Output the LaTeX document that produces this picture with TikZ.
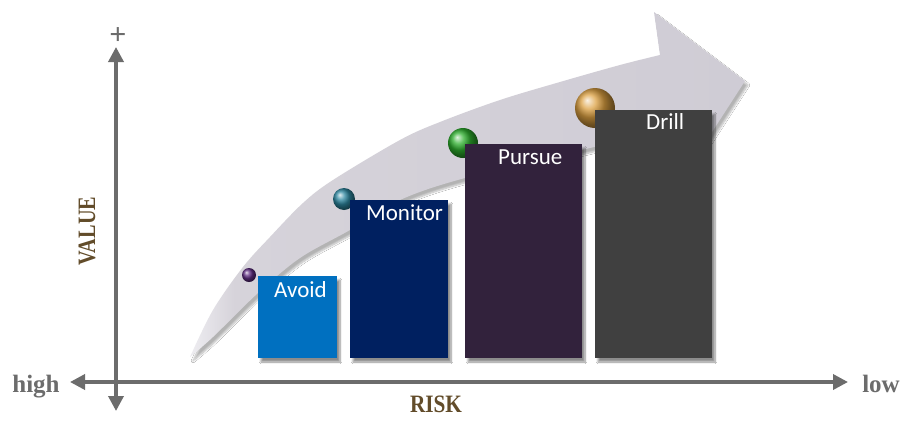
\documentclass[tikz,border=0pt]{standalone}
\usepackage{graphicx}
\usepackage{fontspec}
\setmainfont{Liberation Serif}
\newfontfamily\barfont{Carlito}
\usetikzlibrary{arrows.meta,shadows.blur}

\definecolor{axisgray}{RGB}{108,108,108}
\definecolor{titlebrown}{RGB}{98,76,42}
\definecolor{avoidblue}{RGB}{0,112,192}
\definecolor{monitornavy}{RGB}{0,32,96}
\definecolor{pursueplum}{RGB}{50,34,60}
\definecolor{drillgray}{RGB}{64,64,64}
\definecolor{bandlight}{RGB}{238,237,241}
\definecolor{bandmid}{RGB}{214,211,218}
\definecolor{band}{RGB}{207,204,213}
\definecolor{ballpurple}{RGB}{95,45,130}
\definecolor{ballteal}{RGB}{45,135,160}
\definecolor{ballgreen}{RGB}{45,175,45}
\definecolor{ballgold}{RGB}{220,160,65}

% light tail fading into the grey body of the curved arrow
\pgfdeclarehorizontalshading{bandshade}{100bp}{color(0bp)=(bandlight); color(25bp)=(bandlight); color(29bp)=(bandmid); color(75bp)=(band); color(100bp)=(band)}

\begin{document}
\begin{tikzpicture}[x=1pt,y=-1pt,
  bar/.style={rectangle, inner sep=0pt, outer sep=0pt, anchor=north west,
    blur shadow={shadow xshift=3pt, shadow yshift=-4pt, shadow opacity=45, shadow blur steps=8}},
  barlabel/.style={anchor=base west, inner sep=0pt, text=white,
    font=\barfont\fontsize{23}{23}\selectfont},
  ball/.style={circle, inner sep=0pt, outer sep=0pt},
  axis/.style={draw=axisgray, line width=3.5pt,
    {Triangle[length=15pt,width=15pt]}-{Triangle[length=15pt,width=15pt]}},
  axisword/.style={text=axisgray, font=\bfseries\fontsize{25}{25}\selectfont,
    inner sep=0pt, anchor=base},
  title/.style={text=titlebrown, font=\bfseries\fontsize{25}{25}\selectfont, inner sep=0pt},
]
\useasboundingbox[fill=white] (0,0) rectangle (903,421);

% curved progress arrow
\shade[shading=bandshade,
  blur shadow={shadow xshift=3pt, shadow yshift=-4pt, shadow opacity=30, shadow blur steps=8}]
  (190,357)
  -- plot[smooth, tension=0.55] coordinates {(190,357) (213,310) (243,267) (270,237) (303,203)
       (333,180) (400,140) (440,122) (500,100) (560,82) (620,65) (660,55)}
  -- (654,12) -- (745,81) -- (683,177) -- (674,128)
  -- plot[smooth, tension=0.55] coordinates {(674,128) (590,148) (465,178) (400,200) (350,230)
       (300,258) (258,293) (213,337) (190,357)}
  -- cycle;

% markers along the arrow
\node[ball, minimum size=14pt, ball color=ballpurple] (b1) at (249,275) {};
\node[ball, minimum size=22pt, ball color=ballteal]   (b2) at (344,199) {};
\node[ball, minimum size=30pt, ball color=ballgreen]  (b3) at (463,143) {};
\node[ball, minimum size=40pt, ball color=ballgold]   (b4) at (595,108) {};

% bars
\node[bar, fill=avoidblue,   minimum width=79pt,  minimum height=82pt]  (avoid)   at (258,276) {};
\node[bar, fill=monitornavy, minimum width=98pt,  minimum height=158pt] (monitor) at (350,200) {};
\node[bar, fill=pursueplum,  minimum width=117pt, minimum height=214pt] (pursue)  at (465,144) {};
\node[bar, fill=drillgray,   minimum width=117pt, minimum height=248pt] (drill)   at (595,110) {};

\node[barlabel] (tavoid)   at (274,297) {Avoid};
\node[barlabel] (tmonitor) at (366,220) {Monitor};
\node[barlabel] (tpursue)  at (498,164) {Pursue};
\node[barlabel] (tdrill)   at (646,129) {Drill};

% axes
\coordinate (vtop) at (116,47);
\coordinate (vbot) at (116,411);
\coordinate (hleft) at (70,382);
\coordinate (hright) at (848,382);
\draw[axis] (vbot) -- (vtop);
\draw[axis] (hleft) -- (hright);

\node[text=axisgray, font=\bfseries\fontsize{30}{30}\selectfont, inner sep=0pt] (plus) at (118,36) {+};
\node[axisword] (high) at (36,392) {high};
\node[axisword] (low) at (881,392) {low};
\node[title, anchor=base] (risk) at (436,412) {\scalebox{0.85}[1]{RISK}};
\node[title, rotate=90] (value) at (87,231) {\scalebox{0.81}[1]{VALUE}};
\end{tikzpicture}
\end{document}
